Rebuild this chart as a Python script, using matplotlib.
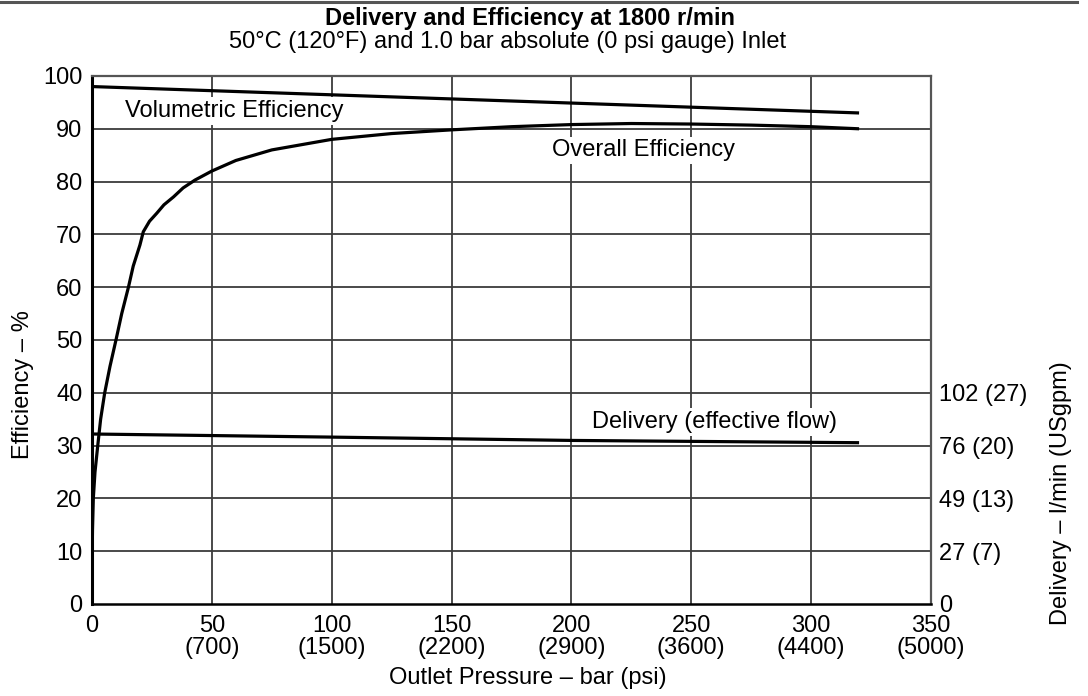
import matplotlib
matplotlib.use("Agg")
import matplotlib.pyplot as plt
from matplotlib.lines import Line2D

plt.rcParams['font.family'] = ['Liberation Sans', 'DejaVu Sans']

# ---- data ----
pressure_ticks = [0, 50, 100, 150, 200, 250, 300, 350]
pressure_labels = ["0", "50\n(700)", "100\n(1500)", "150\n(2200)", "200\n(2900)",
                   "250\n(3600)", "300\n(4400)", "350\n(5000)"]
eff_ticks = [0, 10, 20, 30, 40, 50, 60, 70, 80, 90, 100]

vol_x = [0, 320]
vol_y = [98.0, 93.0]

overall_x = [0, 0.05, 0.2, 0.55, 1.25, 2.4, 3.6, 5.3, 7.5, 10, 12.4, 15.2, 17.2, 20,
             21.4, 24, 27, 30, 34, 38, 43, 50, 60, 75, 100, 125, 150, 175, 200, 225, 250,
             275, 300, 320]
overall_y = [0, 8, 14, 20, 25, 30, 35, 40, 45, 50, 55, 60, 64, 68,
             70.5, 72.5, 74, 75.6, 77.1, 78.8, 80.3, 82, 84, 86, 88, 89.1, 89.8, 90.4, 90.8,
             91.0, 90.9, 90.7, 90.4, 90.0]

delivery_x = [0, 100, 200, 320]
delivery_lpm = [82.1, 80.6, 79.0, 77.9]

delivery_ticks = [0, 25.5, 51, 76.5, 102]
delivery_labels = ["0", "27 (7)", "49 (13)", "76 (20)", "102 (27)"]

# ---- figure ----
fig = plt.figure(figsize=(10.88, 6.96), dpi=100)
ax = fig.add_axes([92/1088, 1-604/696, 839/1088, 528/696])
FS = 17
grid_c = '#3c3c3c'

ax.set_xlim(0, 350)
ax.set_ylim(0, 100)
ax.set_xticks(pressure_ticks)
ax.set_xticklabels(pressure_labels)
ax.set_yticks(eff_ticks)
ax.tick_params(axis='both', length=0, labelsize=FS)
ax.tick_params(axis='y', pad=7)
ax.tick_params(axis='x', pad=8)
for t in ax.get_xticklabels():
    t.set_linespacing(1.0)

for v in pressure_ticks[1:-1]:
    ax.axvline(v, color=grid_c, lw=1.3, zorder=1)
for v in eff_ticks[1:-1]:
    ax.axhline(v, color=grid_c, lw=1.3, zorder=1)

ax.spines['left'].set_linewidth(2.2)
ax.spines['left'].set_color('black')
ax.spines['bottom'].set_linewidth(1.8)
ax.spines['bottom'].set_color('black')
for s in ('top', 'right'):
    ax.spines[s].set_linewidth(1.6)
    ax.spines[s].set_color('#555555')

ax.plot(vol_x, vol_y, color='black', lw=2.3, zorder=3, solid_capstyle='butt')
ax.plot(overall_x, overall_y, color='black', lw=2.3, zorder=3, solid_capstyle='butt',
        solid_joinstyle='round')

ax2 = ax.twinx()
ax2.set_ylim(0, 255)
ax2.set_yticks(delivery_ticks)
ax2.set_yticklabels(delivery_labels)
ax2.tick_params(axis='y', length=0, labelsize=FS, pad=6)
for s in ax2.spines.values():
    s.set_visible(False)
ax2.plot(delivery_x, delivery_lpm, color='black', lw=2.3, zorder=3, solid_capstyle='butt')

box = dict(boxstyle='square,pad=0.12', facecolor='white', edgecolor='none')
ax.text(13.8, 93.4, "Volumetric Efficiency", fontsize=FS, ha='left', va='center',
        bbox=box, zorder=2)
ax.text(191.8, 85.9, "Overall Efficiency", fontsize=FS, ha='left', va='center',
        bbox=box, zorder=2)
ax.text(208.5, 34.5, "Delivery (effective flow)", fontsize=FS, ha='left', va='center',
        bbox=box, zorder=2)

ax.set_xlabel("Outlet Pressure – bar (psi)", fontsize=FS)
ax.xaxis.label.set_va('center')
ax.xaxis.set_label_coords(0.52, -0.14)
ax.set_ylabel("Efficiency – %", fontsize=FS)
ax.yaxis.label.set_va('center')
ax.yaxis.set_label_coords(-0.082, 0.415)
ax2.set_ylabel("Delivery – l/min (USgpm)", fontsize=FS)
ax2.yaxis.label.set_va('center')
ax2.yaxis.set_label_coords(1.155, 0.21)

fig.text(530/1088, 1-18/696, "Delivery and Efficiency at 1800 r/min", fontsize=FS,
         fontweight='bold', ha='center', va='center')
fig.text(508/1088, 1-42/696, "50°C (120°F) and 1.0 bar absolute (0 psi gauge) Inlet",
         fontsize=FS, ha='center', va='center')

fig.add_artist(Line2D([0, 1077/1088], [1-2/696, 1-2/696], color='#555555', lw=2.2,
                      transform=fig.transFigure))

fig.savefig("out.png", dpi=100)
